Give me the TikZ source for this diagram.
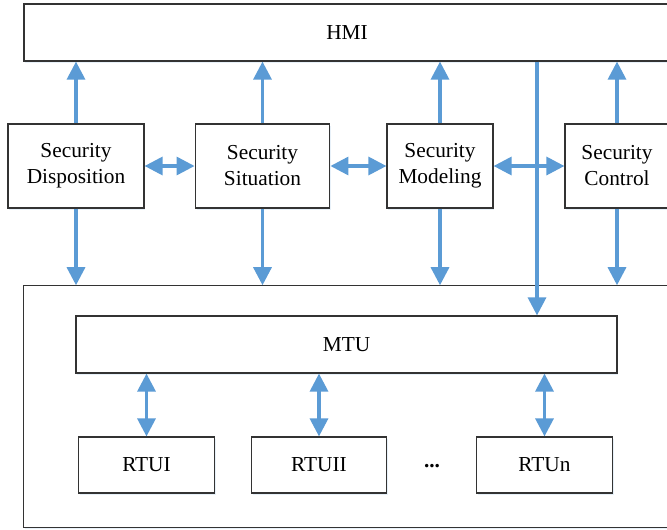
\documentclass[tikz,border=0pt]{standalone}
\usepackage{fontspec}
\setmainfont{Liberation Serif}
\usepackage{xcolor}
\usepackage{tikz}
\usetikzlibrary{arrows.meta, shadows, positioning}

\definecolor{linkblue}{HTML}{5B9BD5}

\begin{document}
\begin{tikzpicture}[
  x=0.75pt, y=-0.75pt,
  every node/.style={font=\fontsize{16}{19.5}\selectfont},
  box/.style={rectangle, draw=black!80, line width=0.9pt, fill=white, align=center, inner sep=0pt,
    drop shadow={shadow xshift=1pt, shadow yshift=-1.5pt, fill=linkblue!40, opacity=0.35}},
  secbox/.style={box, minimum height=63pt},
  rtubox/.style={box, minimum width=101.5pt, minimum height=42pt},
  tip/.tip={Triangle[width=13.5pt, length=13.5pt]},
  arrow/.style={-tip, line width=2.4pt, draw=linkblue},
  biarrow/.style={tip-tip, line width=2.4pt, draw=linkblue}
]
\clip (0,0) rectangle (667,529);

% Frames
\node[box, minimum width=485pt, minimum height=181pt] (frame) at (346.5,406.5) {};
\node[box, minimum width=484.5pt, minimum height=42.75pt] (HMI) at (347,32.5) {HMI};

% Security modules
\node[secbox, minimum width=102pt] (disp) at (76,166) {Security\\Disposition};
\node[secbox, minimum width=101pt] (sit) at (262.5,166) {Security\\Situation};
\node[secbox, minimum width=79.5pt] (model) at (440,166) {Security\\Modeling};
\node[secbox, minimum width=78pt] (ctrl) at (617,166) {Security\\Control};

% MTU and RTUs
\node[box, minimum width=405.75pt, minimum height=42.75pt] (MTU) at (346.5,344.5) {MTU};
\node[rtubox] (rtu1) at (146.5,465) {RTUI};
\node[rtubox] (rtu2) at (319,465) {RTUII};
\node[rtubox] (rtun) at (544.5,465) {RTUn};
\node (dots) at (432,466) {\textbf{...}};

% Links to HMI and down to the frame
\foreach \m in {disp, sit, model, ctrl} {
  \draw[arrow] (\m.north) -- (\m.north |- HMI.south);
  \draw[arrow] (\m.south) -- (\m.south |- frame.north);
}

% Links between modules
\draw[biarrow] (disp.east) -- (sit.west);
\draw[biarrow] (sit.east) -- (model.west);
\draw[biarrow] (model.east) -- (ctrl.west);

% HMI to MTU
\coordinate (tap) at (537,0);
\draw[arrow] (HMI.south -| tap) -- (MTU.north -| tap);

% MTU to RTUs
\foreach \r in {rtu1, rtu2, rtun}
  \draw[biarrow] (MTU.south -| \r) -- (\r.north);

\end{tikzpicture}
\end{document}
